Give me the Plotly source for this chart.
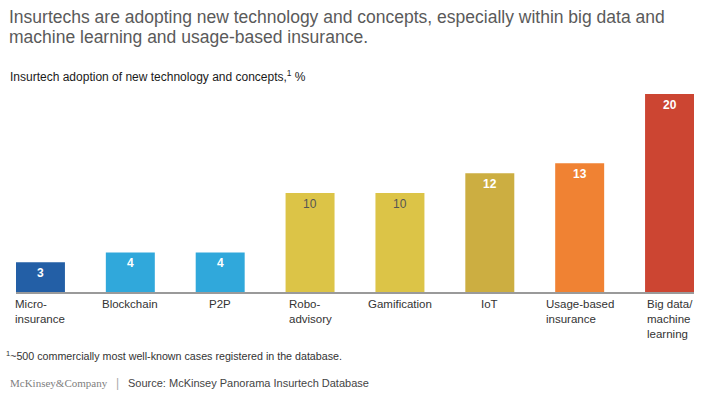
import plotly.graph_objects as go

categories = ["Micro-<br>insurance", "Blockchain", "P2P", "Robo-<br>advisory", "Gamification",
              "IoT", "Usage-based<br>insurance", "Big data/<br>machine<br>learning"]
values = [3, 4, 4, 10, 10, 12, 13, 20]
bar_colors = ["#235FA6", "#30A8DB", "#30A8DB", "#DCC447", "#DCC447", "#CCAE41", "#F08233", "#CC4532"]
label_colors = ["white", "white", "white", "#555555", "#555555", "white", "white", "white"]

title_lines = ["Insurtechs are adopting new technology and concepts, especially within big data and",
               "machine learning and usage-based insurance."]
subtitle_text = "Insurtech adoption of new technology and concepts,<sup>1</sup> %"
footnote_text = "<sup>1</sup>~500 commercially most well-known cases registered in the database."
source_text = "Source: McKinsey Panorama Insurtech Database"

W, H = 713, 396
L, R, T, B = 16, 19, 94, 104
pw, ph = W - L - R, H - T - B

def px(x):
    return (x - L) / pw

def py(y):
    return (H - B - y) / ph

xs = list(range(len(values)))
fig = go.Figure(go.Bar(x=xs, y=values, marker=dict(color=bar_colors, line=dict(width=0)),
                       width=0.545, hoverinfo="skip"))

ann = []
for i, v in enumerate(values):
    bold = label_colors[i] == "white"
    ann.append(dict(x=i, y=v, xref="x", yref="y", text=(f"<b>{v}</b>" if bold else str(v)),
                    showarrow=False, yanchor="middle", yshift=-11,
                    font=dict(size=12, color=label_colors[i], family="Liberation Sans, Arial")))
    ann.append(dict(x=i, y=0, xref="x", yref="y", text=categories[i], showarrow=False,
                    yanchor="top", xanchor="center", align="left", yshift=-4,
                    font=dict(size=11.5, color="#333333", family="Liberation Sans, Arial")))

for j, (line, yc) in enumerate(zip(title_lines, [17, 37])):
    ann.append(dict(x=px(7), y=py(yc), xref="paper", yref="paper", text=line, showarrow=False,
                    xanchor="left", yanchor="middle", align="left",
                    font=dict(size=17.5, color="#5a5a5a", family="Liberation Sans, Arial")))
ann.append(dict(x=px(8), y=py(76), xref="paper", yref="paper", text=subtitle_text, showarrow=False,
                xanchor="left", yanchor="middle",
                font=dict(size=12, color="#1a1a1a", family="Liberation Sans, Arial")))
ann.append(dict(x=px(4), y=py(355), xref="paper", yref="paper", text=footnote_text, showarrow=False,
                xanchor="left", yanchor="middle",
                font=dict(size=10.7, color="#333333", family="Liberation Sans, Arial")))
ann.append(dict(x=px(8), y=py(383), xref="paper", yref="paper", text="McKinsey&amp;Company", showarrow=False,
                xanchor="left", yanchor="middle",
                font=dict(size=11, color="#808080", family="Liberation Serif, Times New Roman")))
ann.append(dict(x=px(117), y=py(383), xref="paper", yref="paper", text="|", showarrow=False,
                xanchor="center", yanchor="middle",
                font=dict(size=12, color="#aaaaaa", family="Liberation Sans, Arial")))
ann.append(dict(x=px(126), y=py(383), xref="paper", yref="paper", text=source_text, showarrow=False,
                xanchor="left", yanchor="middle",
                font=dict(size=11, color="#444444", family="Liberation Sans, Arial")))

fig.update_layout(
    width=W, height=H,
    margin=dict(l=L, r=R, t=T, b=B, pad=0),
    paper_bgcolor="white", plot_bgcolor="white",
    showlegend=False,
    xaxis=dict(range=[-0.272, 7.272], showticklabels=False, showgrid=False, zeroline=False,
               showline=True, linecolor="#9a9a9a", linewidth=1.5, ticks=""),
    yaxis=dict(range=[0, 20], visible=False, showgrid=False, zeroline=False),
    annotations=ann,
)

fig.write_html("out.html", config={"displayModeBar": False},
               post_script="document.body.style.margin='0';document.body.style.padding='0';"
                           "document.body.style.overflow='hidden';")
